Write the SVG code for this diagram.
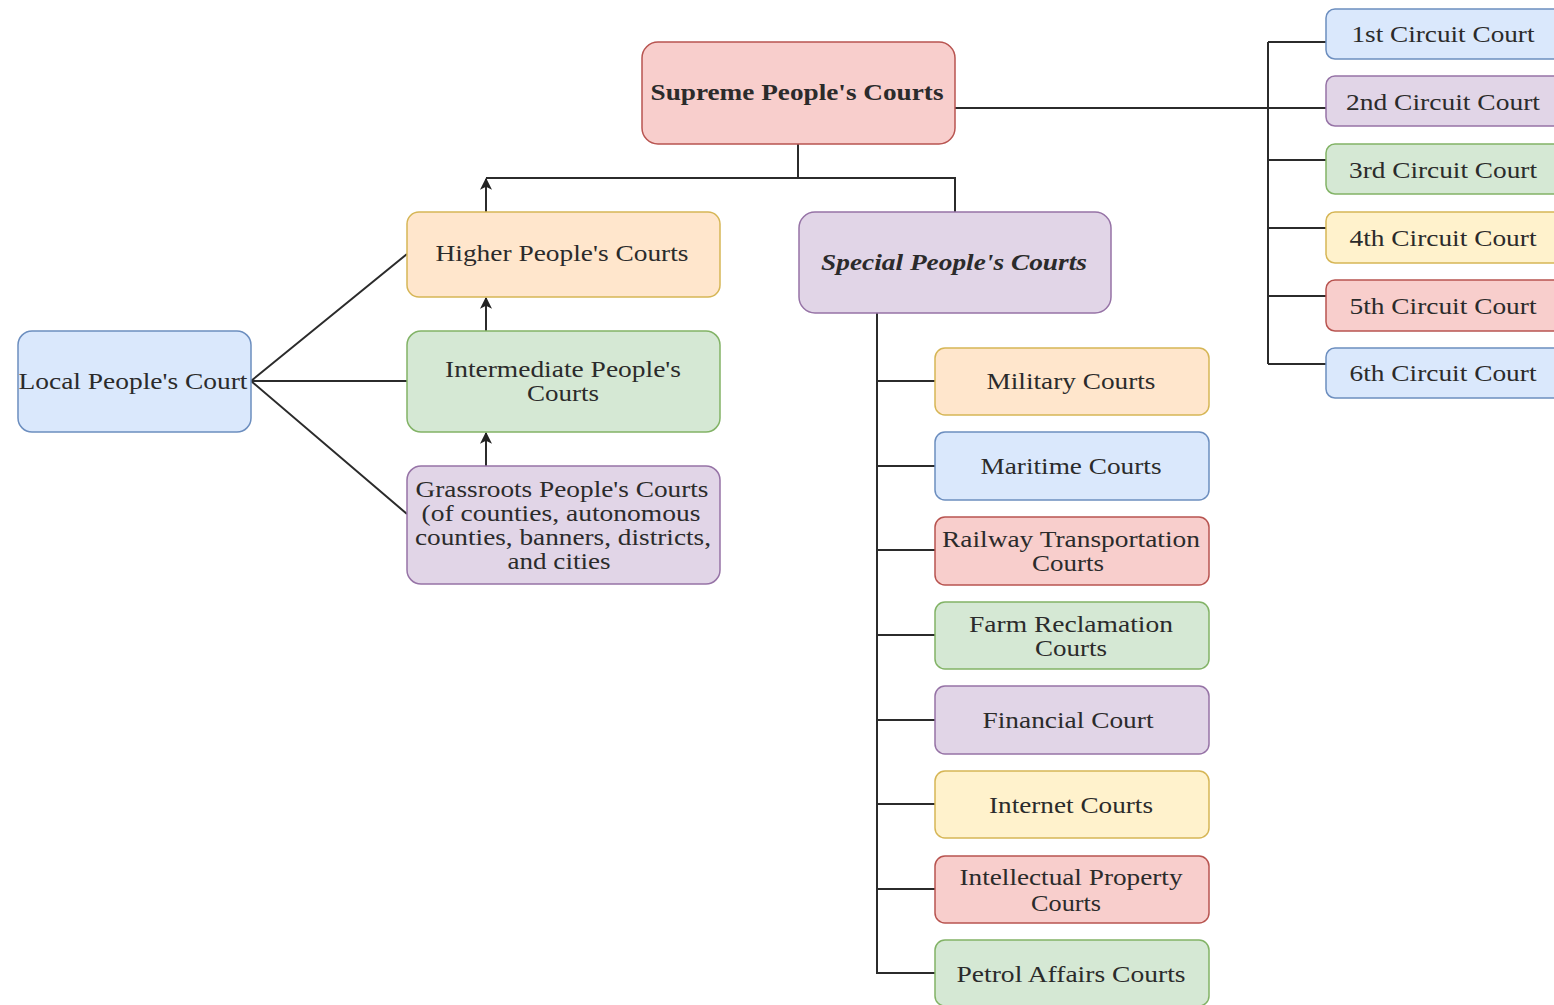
<svg xmlns="http://www.w3.org/2000/svg" width="1554" height="1005" viewBox="0 0 1554 1005">
<defs>
<marker id="arr" viewBox="0 0 10 10" refX="9" refY="5" markerWidth="14" markerHeight="12" markerUnits="userSpaceOnUse" orient="auto">
<path d="M0,0 L10,5 L0,10 L2.5,5 z" fill="#222"/>
</marker>
<style>
.n{stroke-width:1.5}
.red{fill:#f8cecc;stroke:#b85450}
.org{fill:#ffe6cc;stroke:#d6b656}
.yel{fill:#fff2cc;stroke:#d6b656}
.grn{fill:#d5e8d4;stroke:#82b366}
.pur{fill:#e1d5e7;stroke:#9673a6}
.blu{fill:#dae8fc;stroke:#6c8ebf}
text{font-family:"Liberation Serif","Times New Roman",serif;font-size:23px;fill:#2b2b2b;text-anchor:middle}
.b{font-weight:bold}
.bi{font-weight:bold;font-style:italic}
.c{fill:none;stroke:#2b2b2b;stroke-width:2}
</style>
</defs>
<rect width="1554" height="1005" fill="#ffffff"/>
<g id="connectors">
<path class="c" d="M798,144 V178 M486,178 H955 V212"/>
<path class="c" d="M486,212 V179" marker-end="url(#arr)"/>
<path class="c" d="M486,331 V298" marker-end="url(#arr)"/>
<path class="c" d="M486,466 V433" marker-end="url(#arr)"/>
<path class="c" d="M251,381 L407,254 M251,381 H407 M251,381 L407,514"/>
<path class="c" d="M955,108 H1326 M1268,42 V364 M1268,42 H1326 M1268,160 H1326 M1268,228 H1326 M1268,296 H1326 M1268,364 H1326"/>
<path class="c" d="M877,313 V973 H935 M877,381 H935 M877,466 H935 M877,550 H935 M877,635 H935 M877,720 H935 M877,804 H935 M877,889 H935"/>
</g>
<g id="supreme"><rect class="n red" x="642" y="42" width="313" height="102" rx="16"/><text class="b" x="797" y="100" textLength="293" lengthAdjust="spacingAndGlyphs">Supreme People's Courts</text></g>
<g id="higher"><rect class="n org" x="407" y="212" width="313" height="85" rx="12"/><text x="562" y="261" textLength="253" lengthAdjust="spacingAndGlyphs">Higher People's Courts</text></g>
<g id="intermediate"><rect class="n grn" x="407" y="331" width="313" height="101" rx="14"/><text x="563" y="377" textLength="236" lengthAdjust="spacingAndGlyphs">Intermediate People's</text><text x="563" y="401" textLength="72" lengthAdjust="spacingAndGlyphs">Courts</text></g>
<g id="grassroots"><rect class="n pur" x="407" y="466" width="313" height="118" rx="14"/><text x="562" y="497" textLength="293" lengthAdjust="spacingAndGlyphs">Grassroots People's Courts</text><text x="561" y="521" textLength="279" lengthAdjust="spacingAndGlyphs">(of counties, autonomous</text><text x="563" y="545" textLength="296" lengthAdjust="spacingAndGlyphs">counties, banners, districts,</text><text x="559" y="569" textLength="103" lengthAdjust="spacingAndGlyphs">and cities</text></g>
<g id="local"><rect class="n blu" x="18" y="331" width="233" height="101" rx="14"/><text x="133" y="389" textLength="229" lengthAdjust="spacingAndGlyphs">Local People's Court</text></g>
<g id="special"><rect class="n pur" x="799" y="212" width="312" height="101" rx="16"/><text class="bi" x="954" y="270" textLength="266" lengthAdjust="spacingAndGlyphs">Special People's Courts</text></g>
<g id="military"><rect class="n org" x="935" y="348" width="274" height="67" rx="10"/><text x="1071" y="389" textLength="169" lengthAdjust="spacingAndGlyphs">Military Courts</text></g>
<g id="maritime"><rect class="n blu" x="935" y="432" width="274" height="68" rx="10"/><text x="1071" y="474" textLength="181" lengthAdjust="spacingAndGlyphs">Maritime Courts</text></g>
<g id="railway"><rect class="n red" x="935" y="517" width="274" height="68" rx="10"/><text x="1071" y="547" textLength="258" lengthAdjust="spacingAndGlyphs">Railway Transportation</text><text x="1068" y="571" textLength="72" lengthAdjust="spacingAndGlyphs">Courts</text></g>
<g id="farm"><rect class="n grn" x="935" y="602" width="274" height="67" rx="10"/><text x="1071" y="632" textLength="204" lengthAdjust="spacingAndGlyphs">Farm Reclamation</text><text x="1071" y="656" textLength="72" lengthAdjust="spacingAndGlyphs">Courts</text></g>
<g id="financial"><rect class="n pur" x="935" y="686" width="274" height="68" rx="10"/><text x="1068" y="728" textLength="171" lengthAdjust="spacingAndGlyphs">Financial Court</text></g>
<g id="internet"><rect class="n yel" x="935" y="771" width="274" height="67" rx="10"/><text x="1071" y="813" textLength="164" lengthAdjust="spacingAndGlyphs">Internet Courts</text></g>
<g id="ip"><rect class="n red" x="935" y="856" width="274" height="67" rx="10"/><text x="1071" y="885" textLength="223" lengthAdjust="spacingAndGlyphs">Intellectual Property</text><text x="1066" y="911" textLength="70" lengthAdjust="spacingAndGlyphs">Courts</text></g>
<g id="petrol"><rect class="n grn" x="935" y="940" width="274" height="66" rx="10"/><text x="1071" y="982" textLength="229" lengthAdjust="spacingAndGlyphs">Petrol Affairs Courts</text></g>
<g id="c1"><rect class="n blu" x="1326" y="9" width="240" height="50" rx="9"/><text x="1443" y="42" textLength="183" lengthAdjust="spacingAndGlyphs">1st Circuit Court</text></g>
<g id="c2"><rect class="n pur" x="1326" y="76" width="240" height="50" rx="9"/><text x="1443" y="110" textLength="194" lengthAdjust="spacingAndGlyphs">2nd Circuit Court</text></g>
<g id="c3"><rect class="n grn" x="1326" y="144" width="240" height="50" rx="9"/><text x="1443" y="178" textLength="188" lengthAdjust="spacingAndGlyphs">3rd Circuit Court</text></g>
<g id="c4"><rect class="n yel" x="1326" y="212" width="240" height="51" rx="9"/><text x="1443" y="246" textLength="187" lengthAdjust="spacingAndGlyphs">4th Circuit Court</text></g>
<g id="c5"><rect class="n red" x="1326" y="280" width="240" height="51" rx="9"/><text x="1443" y="314" textLength="187" lengthAdjust="spacingAndGlyphs">5th Circuit Court</text></g>
<g id="c6"><rect class="n blu" x="1326" y="348" width="240" height="50" rx="9"/><text x="1443" y="381" textLength="187" lengthAdjust="spacingAndGlyphs">6th Circuit Court</text></g>
</svg>
